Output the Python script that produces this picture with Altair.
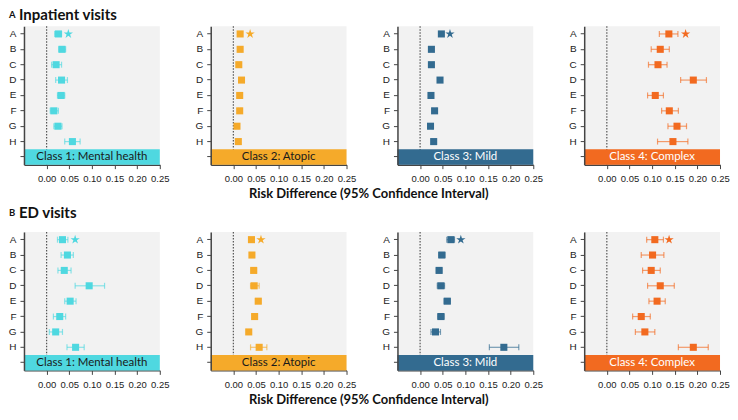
import altair as alt
import pandas as pd

cats = ["A", "B", "C", "D", "E", "F", "G", "H"]
band_cat = "~"
classes = ["Class 1: Mental health", "Class 2: Atopic", "Class 3: Mild", "Class 4: Complex"]
colors = ["#4fd8e0", "#f5aa2a", "#336b90", "#f26a20"]
label_colors = ["#1a1a1a", "#1a1a1a", "#ffffff", "#ffffff"]
x_ticks = [0.0, 0.05, 0.10, 0.15, 0.20, 0.25]

# ---- A: Inpatient visits ----
inp_est = [
    [0.026, 0.034, 0.021, 0.033, 0.032, 0.016, 0.025, 0.057],
    [0.015, 0.015, 0.012, 0.018, 0.014, 0.014, 0.008, 0.011],
    [0.047, 0.025, 0.025, 0.044, 0.024, 0.032, 0.023, 0.030],
    [0.137, 0.118, 0.113, 0.191, 0.107, 0.138, 0.155, 0.146],
]
inp_lo = [
    [0.018, 0.027, 0.011, 0.020, 0.024, 0.008, 0.016, 0.040],
    [0.012, 0.012, 0.009, 0.015, 0.011, 0.011, 0.005, 0.008],
    [0.043, 0.021, 0.021, 0.040, 0.020, 0.028, 0.019, 0.026],
    [0.116, 0.098, 0.092, 0.163, 0.090, 0.121, 0.135, 0.112],
]
inp_hi = [
    [0.033, 0.042, 0.033, 0.046, 0.040, 0.026, 0.034, 0.074],
    [0.018, 0.018, 0.015, 0.021, 0.017, 0.017, 0.011, 0.014],
    [0.051, 0.029, 0.029, 0.048, 0.028, 0.036, 0.027, 0.034],
    [0.157, 0.138, 0.133, 0.220, 0.125, 0.158, 0.176, 0.179],
]
inp_star = [0.048, 0.037, 0.066, 0.174]

# ---- B: ED visits ----
ed_est = [
    [0.035, 0.046, 0.039, 0.094, 0.052, 0.029, 0.020, 0.064],
    [0.040, 0.041, 0.045, 0.046, 0.055, 0.047, 0.034, 0.057],
    [0.068, 0.048, 0.042, 0.046, 0.060, 0.046, 0.034, 0.185],
    [0.106, 0.101, 0.098, 0.118, 0.111, 0.076, 0.084, 0.191],
]
ed_lo = [
    [0.024, 0.032, 0.025, 0.063, 0.040, 0.015, 0.006, 0.045],
    [0.035, 0.036, 0.039, 0.038, 0.049, 0.042, 0.029, 0.038],
    [0.059, 0.041, 0.036, 0.038, 0.053, 0.039, 0.024, 0.153],
    [0.088, 0.076, 0.079, 0.090, 0.093, 0.057, 0.063, 0.158],
]
ed_hi = [
    [0.047, 0.059, 0.054, 0.128, 0.065, 0.042, 0.035, 0.083],
    [0.045, 0.046, 0.051, 0.057, 0.061, 0.052, 0.039, 0.074],
    [0.076, 0.055, 0.048, 0.054, 0.067, 0.053, 0.045, 0.218],
    [0.125, 0.126, 0.118, 0.149, 0.129, 0.096, 0.106, 0.224],
]
ed_star = [0.063, 0.061, 0.090, 0.1375]

W = 136
STEP = 15.4
H = STEP * 9
TICK_FONT = "Liberation Sans"
TEXT_FONT = "Lato"

xscale = alt.Scale(domain=[-0.05, 0.25], nice=False, zero=False)
yscale = alt.Scale(domain=cats + [band_cat], paddingInner=0, paddingOuter=0)
xaxis = alt.Axis(values=x_ticks, format=".2f", title=None, grid=False,
                 labelFont=TICK_FONT, labelFontSize=9.5, labelColor="#222",
                 domainColor="#444", domainWidth=1.5, tickColor="#444", tickSize=4,
                 labelPadding=5, labelFlush=False, labelOverlap=False)
yaxis = alt.Axis(title=None, grid=False, labelFont=TICK_FONT, labelFontSize=10,
                 labelColor="#222", domainColor="#444", domainWidth=1.5,
                 tickColor="#444", tickSize=4, labelPadding=4,
                 labelExpr="datum.value == '~' ? '' : datum.value")


def X(field):
    return alt.X(field, scale=xscale, axis=xaxis)


def panel(i, est, lo, hi, star, head=None, head_y=-13):
    col = colors[i]
    df = pd.DataFrame({"cat": cats, "est": est[i], "lo": lo[i], "hi": hi[i]})
    caps = pd.DataFrame({"cat": cats + cats, "v": lo[i] + hi[i]})
    band = pd.DataFrame({"cat": [band_cat], "x": [-0.05], "x2": [0.25],
                         "xm": [0.10], "label": [classes[i]]})
    zero = pd.DataFrame({"x": [0.0]})
    sdf = pd.DataFrame({"cat": ["A"], "v": [star[i]]})

    Y = alt.Y("cat:N", scale=yscale, axis=yaxis, sort=cats + [band_cat])

    zl = alt.Chart(zero).mark_rule(color="#555", strokeDash=[1.5, 1.5], strokeWidth=1.2).encode(
        x=X("x:Q"))
    bandr = alt.Chart(band).mark_rect(color=col).encode(x=X("x:Q"), x2="x2:Q", y=Y)
    bandt = alt.Chart(band).mark_text(font=TEXT_FONT, fontSize=11.5, color=label_colors[i]).encode(
        x=X("xm:Q"), y=Y, text="label:N")
    err = alt.Chart(df).mark_rule(color=col, opacity=0.65, strokeWidth=1.2).encode(
        x=X("lo:Q"), x2="hi:Q", y=Y)
    cap = alt.Chart(caps).mark_tick(color=col, opacity=0.65, size=6, thickness=1.2).encode(
        x=X("v:Q"), y=Y)
    sq = alt.Chart(df).mark_square(color=col, opacity=1, size=50).encode(x=X("est:Q"), y=Y)
    star_path = ("M0,-1L0.2245,-0.309L0.951,-0.309L0.363,0.118L0.588,0.809L0,0.382"
                 "L-0.588,0.809L-0.363,0.118L-0.951,-0.309L-0.2245,-0.309Z")
    st = alt.Chart(sdf).mark_point(shape=star_path, filled=True, color=col, opacity=1, size=95).encode(
        x=X("v:Q"), y=Y)
    layers = [zl, bandr, bandt, err, cap, sq, st]
    if head is not None:
        hd = pd.DataFrame({"a": [head[0]], "b": [head[1]]})
        layers.append(alt.Chart(hd).mark_text(font=TEXT_FONT, fontWeight="bold", fontSize=9.5,
                                              align="left", baseline="middle", color="#111").encode(
            x=alt.value(-15), y=alt.value(head_y), text="a:N"))
        layers.append(alt.Chart(hd).mark_text(font=TEXT_FONT, fontWeight="bold", fontSize=15,
                                              align="left", baseline="middle", color="#111").encode(
            x=alt.value(-5), y=alt.value(head_y), text="b:N"))
    return alt.layer(*layers).properties(width=W, height=H)


def row(est, lo, hi, star, head, head_y):
    panels = [panel(i, est, lo, hi, star, head=head if i == 0 else None, head_y=head_y)
              for i in range(4)]
    return alt.hconcat(*panels, spacing=51, bounds="flush",
                       title=alt.TitleParams("Risk Difference (95% Confidence Interval)",
                                             orient="bottom", anchor="middle", font=TEXT_FONT,
                                             fontSize=13, fontWeight="bold", color="#111",
                                             offset=5))


chart = alt.vconcat(
    row(inp_est, inp_lo, inp_hi, inp_star, ("A", "Inpatient visits"), -11),
    row(ed_est, ed_lo, ed_hi, ed_star, ("B", "ED visits"), -19),
    spacing=4,
).properties(padding={"left": 0, "top": 0, "right": 0, "bottom": 0}, background="white"
).configure_view(fill="#f2f2f2", strokeWidth=0)

chart.save("out.html", embed_options={"renderer": "svg", "actions": False})
